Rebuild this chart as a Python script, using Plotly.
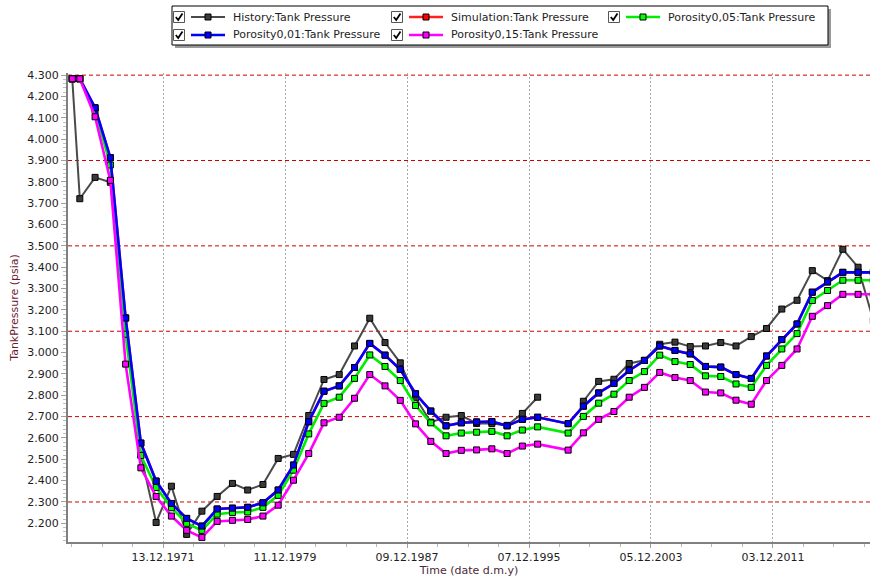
import plotly.graph_objects as go

# ---------------------------------------------------------------- data
dates = [
    "1966-01-01", "1966-07-01", "1967-07-01", "1968-07-01", "1969-07-01",
    "1970-07-01", "1971-07-01", "1972-07-01", "1973-07-01", "1974-07-01",
    "1975-07-01", "1976-07-01", "1977-07-01", "1978-07-01", "1979-07-01",
    "1980-07-01", "1981-07-01", "1982-07-01", "1983-07-01", "1984-07-01",
    "1985-07-01", "1986-07-01", "1987-07-01", "1988-07-01", "1989-07-01",
    "1990-07-01", "1991-07-01", "1992-07-01", "1993-07-01", "1994-07-01",
    "1995-07-01", "1996-07-01", "1998-07-01", "1999-07-01", "2000-07-01",
    "2001-07-01", "2002-07-01", "2003-07-01", "2004-07-01", "2005-07-01",
    "2006-07-01", "2007-07-01", "2008-07-01", "2009-07-01", "2010-07-01",
    "2011-07-01", "2012-07-01", "2013-07-01", "2014-07-01", "2015-07-01",
    "2016-07-01", "2017-07-01", "2018-07-01",
]

history = [
    4.283, 3.721, 3.821, 3.798, 3.162, 2.520, 2.204, 2.374, 2.148, 2.257,
    2.326, 2.387, 2.356, 2.382, 2.504, 2.523, 2.705, 2.874, 2.897, 3.031,
    3.161, 3.047, 2.952, 2.788, 2.674, 2.697, 2.705, 2.668, 2.668, 2.659,
    2.715, 2.791, None, 2.772, 2.865, 2.875, 2.949, 2.964, 3.039, 3.049,
    3.028, 3.031, 3.047, 3.031, 3.075, 3.113, 3.204, 3.245, 3.384, 3.337,
    3.484, 3.400, 3.150,
]

porosity_001 = [
    4.283, 4.283, 4.147, 3.913, 3.162, 2.576, 2.398, 2.293, 2.223, 2.187,
    2.267, 2.271, 2.275, 2.296, 2.356, 2.473, 2.676, 2.819, 2.844, 2.930,
    3.043, 2.988, 2.921, 2.807, 2.726, 2.657, 2.671, 2.675, 2.677, 2.657,
    2.687, 2.697, 2.667, 2.749, 2.811, 2.855, 2.916, 2.963, 3.031, 3.010,
    2.994, 2.935, 2.932, 2.897, 2.879, 2.984, 3.061, 3.134, 3.283, 3.331,
    3.376, 3.376, 3.376,
]

# the base simulation run coincides with the 0,01 porosity case
simulation = list(porosity_001)

porosity_005 = [
    4.283, 4.283, 4.135, 3.879, 3.086, 2.518, 2.368, 2.273, 2.200, 2.167,
    2.243, 2.251, 2.253, 2.275, 2.331, 2.449, 2.619, 2.762, 2.791, 2.879,
    2.989, 2.935, 2.869, 2.752, 2.671, 2.610, 2.623, 2.627, 2.631, 2.610,
    2.637, 2.652, 2.623, 2.701, 2.763, 2.805, 2.869, 2.911, 2.988, 2.958,
    2.944, 2.891, 2.888, 2.853, 2.837, 2.940, 3.017, 3.089, 3.244, 3.291,
    3.339, 3.339, 3.339,
]

porosity_015 = [
    4.283, 4.283, 4.105, 3.807, 2.946, 2.460, 2.326, 2.234, 2.167, 2.134,
    2.209, 2.214, 2.218, 2.234, 2.285, 2.402, 2.527, 2.671, 2.697, 2.786,
    2.897, 2.844, 2.776, 2.666, 2.584, 2.527, 2.542, 2.544, 2.549, 2.527,
    2.562, 2.571, 2.543, 2.624, 2.687, 2.724, 2.791, 2.837, 2.907, 2.883,
    2.869, 2.815, 2.811, 2.777, 2.758, 2.869, 2.940, 3.017, 3.170, 3.220,
    3.273, 3.273, 3.273,
]

x_tick_dates = ["1971-12-13", "1979-12-11", "1987-12-09",
                "1995-12-07", "2003-12-05", "2011-12-03"]
x_tick_text = ["13.12.1971", "11.12.1979", "09.12.1987",
               "07.12.1995", "05.12.2003", "03.12.2011"]
y_tick_vals = [2.2, 2.3, 2.4, 2.5, 2.6, 2.7, 2.8, 2.9, 3.0, 3.1, 3.2,
               3.3, 3.4, 3.5, 3.6, 3.7, 3.8, 3.9, 4.0, 4.1, 4.2, 4.3]
red_grid = [2.3, 2.7, 3.1, 3.5, 3.9, 4.3]

series = [
    ("History:Tank Pressure", history, "#4a4a4a", "#3a3a3a", 2.0),
    ("Simulation:Tank Pressure", simulation, "#ff2020", "#ff0000", 2.6),
    ("Porosity0,05:Tank Pressure", porosity_005, "#00ee00", "#00ff00", 2.6),
    ("Porosity0,01:Tank Pressure", porosity_001, "#0000ff", "#0000ff", 2.6),
    ("Porosity0,15:Tank Pressure", porosity_015, "#ff00ff", "#ff00ff", 2.6),
]

# ---------------------------------------------------------------- layout helpers
W, H = 870, 577
ML, MR, MT, MB = 68, 0, 73, 35
PW = W - ML - MR
PH = H - MT - MB
FONT = "DejaVu Sans"
TEXT = "#1e1e1e"


def fx(px):
    return (px - ML) / PW


def fy(py):
    return (H - MB - py) / PH


fig = go.Figure()

for name, vals, lc, mc, lw in series:
    fig.add_trace(go.Scatter(
        x=dates, y=vals, name=name, mode="lines+markers",
        line=dict(color=lc, width=lw),
        marker=dict(symbol="square", size=6, color=mc,
                    line=dict(color="#000000", width=1)),
        showlegend=False,
    ))

shapes = []
for v in red_grid:
    shapes.append(dict(type="line", xref="paper", yref="y", x0=0, x1=1,
                       y0=v, y1=v, layer="below",
                       line=dict(color="#d00000", width=1, dash="4px,3px")))

# legend panel with check boxes
annotations = []
shapes.append(dict(type="rect", xref="paper", yref="paper",
                   x0=fx(175), x1=fx(831), y0=fy(48), y1=fy(9),
                   fillcolor="#9a9a9a", line=dict(width=0)))
shapes.append(dict(type="rect", xref="paper", yref="paper",
                   x0=fx(172), x1=fx(828), y0=fy(45), y1=fy(6),
                   fillcolor="#ffffff", line=dict(color="#000000", width=1)))

cols = [179, 397, 614]
rows = [17, 35]
slots = [(0, 0), (1, 0), (2, 0), (0, 1), (1, 1)]
for (name, _, lc, mc, lw), (ci, ri) in zip(series, slots):
    cx, cy = cols[ci], rows[ri]
    # check box
    shapes.append(dict(type="rect", xref="paper", yref="paper",
                       x0=fx(cx - 5.5), x1=fx(cx + 5.5),
                       y0=fy(cy + 5.5), y1=fy(cy - 5.5),
                       fillcolor="#ffffff",
                       line=dict(color="#555555", width=1)))
    shapes.append(dict(type="path", xref="paper", yref="paper",
                       path=(f"M {fx(cx - 3.2)},{fy(cy)} "
                             f"L {fx(cx - 0.8)},{fy(cy + 3)} "
                             f"L {fx(cx + 3.5)},{fy(cy - 3.5)}"),
                       line=dict(color="#000000", width=1.8)))
    # line sample with marker
    shapes.append(dict(type="line", xref="paper", yref="paper",
                       x0=fx(cx + 12), x1=fx(cx + 46), y0=fy(cy), y1=fy(cy),
                       line=dict(color=lc, width=lw)))
    shapes.append(dict(type="rect", xref="paper", yref="paper",
                       x0=fx(cx + 26), x1=fx(cx + 32),
                       y0=fy(cy + 3), y1=fy(cy - 3),
                       fillcolor=mc, line=dict(color="#000000", width=1)))
    annotations.append(dict(xref="paper", yref="paper", x=fx(cx + 52),
                            y=fy(cy), text=name, showarrow=False,
                            xanchor="left", yanchor="middle",
                            font=dict(family=FONT, size=11, color=TEXT)))

fig.update_layout(
    width=W, height=H,
    margin=dict(l=ML, r=MR, t=MT, b=MB, autoexpand=False),
    paper_bgcolor="#ffffff", plot_bgcolor="#ffffff",
    font=dict(family=FONT, size=11, color=TEXT),
    shapes=shapes, annotations=annotations,
    showlegend=False,
    xaxis=dict(
        type="date", range=["1965-09-21", "2018-04-12"],
        tickmode="array", tickvals=x_tick_dates, ticktext=x_tick_text,
        showgrid=True, gridcolor="#a8a8a8", gridwidth=1, griddash="2px,2px",
        showline=True, linecolor="#808080", linewidth=2,
        ticks="outside", ticklen=4, tickcolor="#a0a0a0",
        minor=dict(ticks="outside", ticklen=3, tickcolor="#b8b8b8",
                   dtick=730 * 86400000, tick0="1971-12-13", showgrid=False),
        zeroline=False, automargin=False,
        tickfont=dict(family=FONT, size=11, color=TEXT),
        title=dict(text="Time (date d.m.y)", standoff=4,
                   font=dict(family=FONT, size=11, color="#4a2a3a")),
    ),
    yaxis=dict(
        range=[2.1125, 4.31],
        tickmode="array", tickvals=y_tick_vals, tickformat=".3f",
        showgrid=False,
        showline=True, linecolor="#808080", linewidth=2,
        ticks="outside", ticklen=5, tickcolor="#a0a0a0",
        minor=dict(ticks="outside", ticklen=3, tickcolor="#c0c0c0",
                   dtick=0.02, tick0=2.2, showgrid=False),
        zeroline=False, automargin=False,
        tickfont=dict(family=FONT, size=11, color=TEXT),
        title=dict(text="TankPressure (psia)", standoff=6,
                   font=dict(family=FONT, size=11, color="#6a1a30")),
    ),
)

fig.write_html("out.html")
